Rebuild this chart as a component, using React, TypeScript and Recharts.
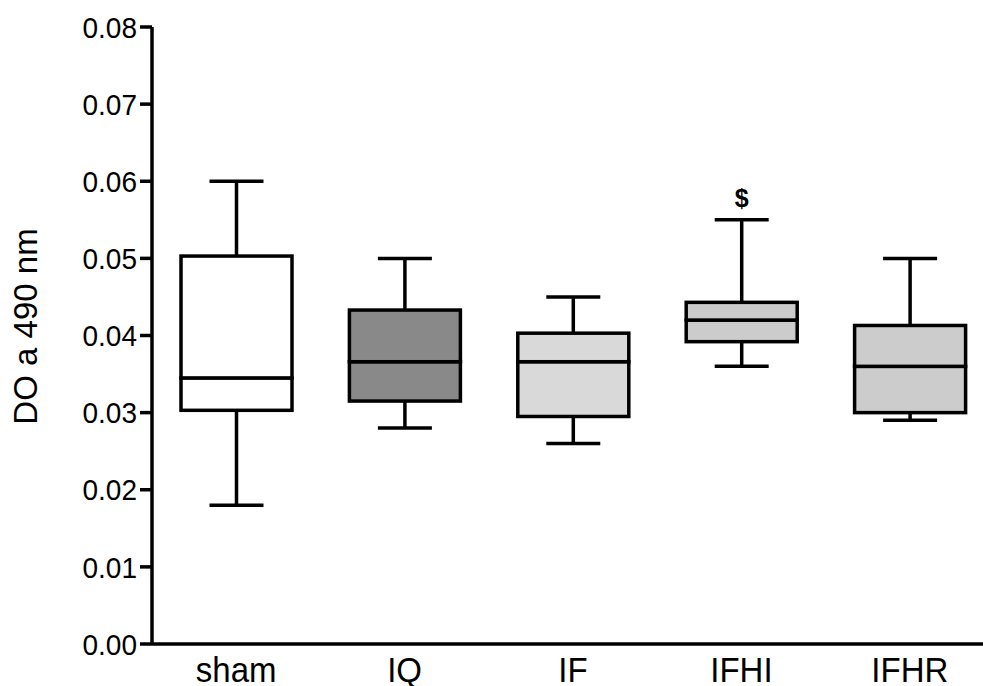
import React from 'react';
import { ComposedChart, Bar, XAxis, YAxis, LabelList } from 'recharts';

const categories = ['sham', 'IQ', 'IF', 'IFHI', 'IFHR'];
const minValues = [0.018, 0.028, 0.026, 0.036, 0.029];
const q1Values = [0.0303, 0.0315, 0.0295, 0.0392, 0.03];
const medianValues = [0.0345, 0.0366, 0.0366, 0.042, 0.036];
const q3Values = [0.0503, 0.0433, 0.0403, 0.0443, 0.0413];
const maxValues = [0.06, 0.05, 0.045, 0.055, 0.05];
const boxColors = ['#ffffff', '#898989', '#d9d9d9', '#cccccc', '#cccccc'];
const markers = ['', '', '', '$', ''];
const yTicks = [0, 0.01, 0.02, 0.03, 0.04, 0.05, 0.06, 0.07, 0.08];

const data = categories.map((name, i) => ({
  name,
  base: minValues[i],
  lowWhisker: q1Values[i] - minValues[i],
  lowBox: medianValues[i] - q1Values[i],
  highBox: q3Values[i] - medianValues[i],
  highWhisker: maxValues[i] - q3Values[i],
  color: boxColors[i],
  mark: markers[i],
}));

const FONT = '"Liberation Sans", Arial, Helvetica, sans-serif';
const SW = 3.5;
const CAP = 27;

const Empty = () => <g />;

const LowWhisker = (p: any) => {
  const cx = p.x + p.width / 2;
  const bottom = p.y + p.height;
  return (
    <g>
      <line x1={cx} x2={cx} y1={p.y} y2={bottom} stroke="#000" strokeWidth={SW} />
      <line x1={cx - CAP} x2={cx + CAP} y1={bottom} y2={bottom} stroke="#000" strokeWidth={SW} />
    </g>
  );
};

const HighWhisker = (p: any) => {
  const cx = p.x + p.width / 2;
  const bottom = p.y + p.height;
  return (
    <g>
      <line x1={cx} x2={cx} y1={p.y} y2={bottom} stroke="#000" strokeWidth={SW} />
      <line x1={cx - CAP} x2={cx + CAP} y1={p.y} y2={p.y} stroke="#000" strokeWidth={SW} />
    </g>
  );
};

const BoxPart = (p: any) => {
  const fill = (p.payload && p.payload.color) || boxColors[p.index] || '#fff';
  return (
    <rect x={p.x} y={p.y} width={p.width} height={p.height} fill={fill} stroke="#000" strokeWidth={SW} />
  );
};

const YTick = (p: any) => (
  <g transform={`translate(0, ${p.y}) scale(1, 1.08) translate(0, ${-p.y})`}>
    <text x={p.x} y={p.y} dy="0.355em" textAnchor="end" fontSize={28} fontFamily={FONT} fill="#000">
      {Number(p.payload.value).toFixed(2)}
    </text>
  </g>
);

const XTick = (p: any) => (
  <g transform={`translate(0, ${p.y}) scale(1, 1.08) translate(0, ${-p.y})`}>
    <text x={p.x} y={p.y} dy="0.71em" textAnchor="middle" fontSize={33} fontFamily={FONT} fill="#000">
      {p.payload.value}
    </text>
  </g>
);

const YLabel = (p: any) => {
  const vb = p.viewBox || { x: 0, y: 27, width: 152, height: 617 };
  const cx = vb.x + 25;
  const cy = vb.y + vb.height / 2 - 9;
  return (
    <text
      x={cx}
      y={cy}
      transform={`rotate(-90, ${cx}, ${cy})`}
      textAnchor="middle"
      dominantBaseline="central"
      fontSize={33}
      fontFamily={FONT}
      fill="#000"
    >
      DO a 490 nm
    </text>
  );
};

export default function App() {
  return (
    <div style={{ position: 'absolute', left: 0, top: 0, width: 983, height: 686, overflow: 'hidden', background: '#fff' }}>
      <ComposedChart width={1000} height={686} data={data} margin={{ top: 27, right: 6, bottom: 0, left: 0 }}>
        <XAxis
          dataKey="name"
          axisLine={{ stroke: '#000', strokeWidth: SW }}
          tickLine={false}
          tickMargin={7}
          height={42}
          tick={<XTick />}
          interval={0}
        />
        <YAxis
          type="number"
          domain={[0, 0.08]}
          ticks={yTicks}
          width={152}
          axisLine={{ stroke: '#000', strokeWidth: SW }}
          tickLine={{ stroke: '#000', strokeWidth: SW }}
          tickSize={12}
          tickMargin={3}
          tick={<YTick />}
          interval={0}
          label={<YLabel />}
        />
        <Bar dataKey="base" stackId="box" barSize={111} shape={<Empty />} isAnimationActive={false} />
        <Bar dataKey="lowWhisker" stackId="box" barSize={111} shape={<LowWhisker />} isAnimationActive={false} />
        <Bar dataKey="lowBox" stackId="box" barSize={111} shape={<BoxPart />} isAnimationActive={false} />
        <Bar dataKey="highBox" stackId="box" barSize={111} shape={<BoxPart />} isAnimationActive={false} />
        <Bar dataKey="highWhisker" stackId="box" barSize={111} shape={<HighWhisker />} isAnimationActive={false}>
          <LabelList dataKey="mark" position="top" offset={13} fontSize={25} fontWeight="bold" fontFamily={FONT} fill="#000" />
        </Bar>
      </ComposedChart>
    </div>
  );
}
